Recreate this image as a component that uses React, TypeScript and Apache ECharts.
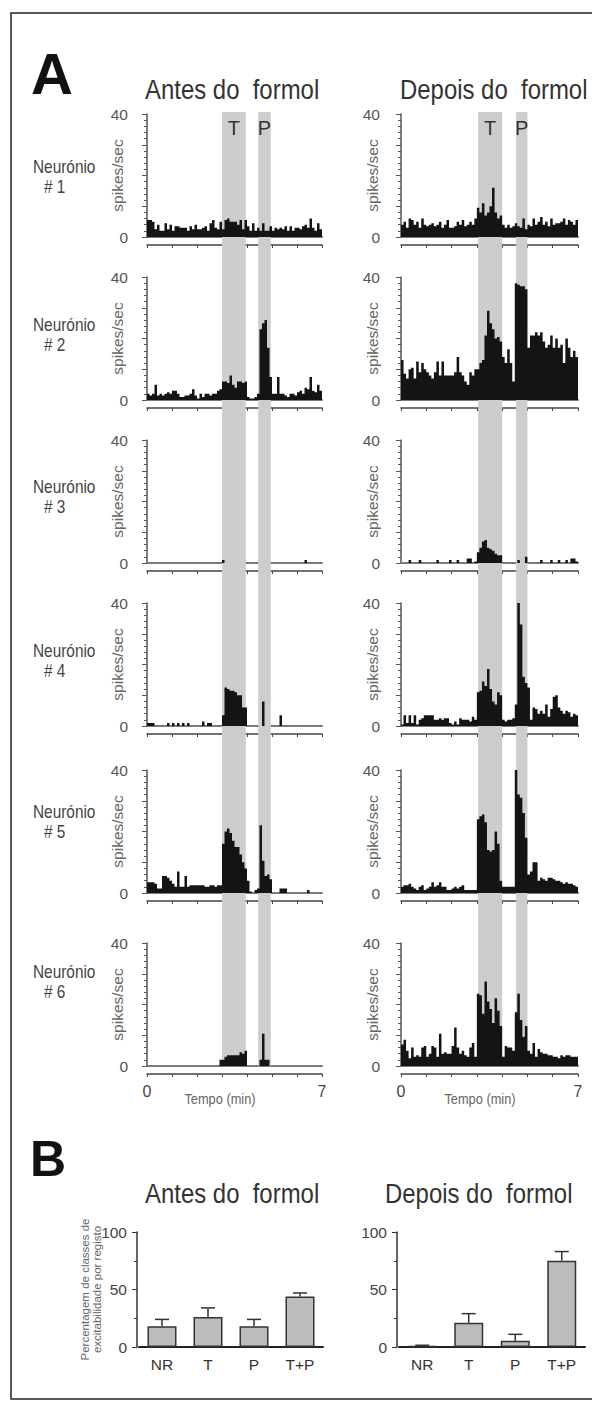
import React, { useEffect, useRef } from 'react';
import * as echarts from 'echarts';

// ---------- DATA ----------
const BIN = 0.1; // minutes per histogram bin
const TIME_MAX = 7;

const antes1 = [5.5,5.5,5,2.5,4,2,2,4.5,2.5,4, 2,3.5,3.5,3,3,3,2,3.5,2.5,4, 2.5,2.5,3,3.5,2,4.5,5.5,3,2.5,5, 2.5,5.5,6,5,5,5,4,5.5,2.5,5.5, 3.5,2,4.5,2,3,2,4.5,2,2,3.5, 2,3,2.5,3,2.5,3.5,2,3.5,2,3, 3,2.5,3.5,4,3,6,3,2,4.5,2.5];
const depois1 = [4,5,3,6,5.5,4,5,3,6,4, 3.5,4,4.5,3.5,4,5,3,4,5.5,3, 3,3.5,5,4,5.5,3.5,4,5,4,6, 9.5,8,11,7,8,10,16,8,6,7, 4,3,4,3,3.5,4.5,3.5,3,6,2.5, 4,3.5,6,4,5,6.5,4,5,3.5,6, 4,4.5,4.5,5,6,4,5.5,5,4,5.5];
const antes2 = [2,1.5,2,5,1.5,2,1.5,2,2.5,2, 3,3,2,1,1,1.5,1.5,2,3.5,1.5, 0.5,2,1,2,2,1.5,2,2,3,3.5, 6,6,5.5,8,5,4,6,6,5.5,6, 1,0.5,0.5,1,2,23,25,26,17,7.5, 2,2,7.5,2,2,1.5,1,2,2,1.5, 2.5,3,2,4,3.5,7.5,3,2.5,5,3];
const depois2 = [13,8.5,7,10,10.5,7,12.5,9,12,10, 9,8,7,9,12.5,8,12.5,8,8,8, 8,9,14,9,8,6,5,9,8,10, 10,12,13,21,29,25,23,20,20.5,19, 14,12,16.5,12,6,38,37.5,37,37,36, 17,21,21,22,21,22,19,17,18,21, 17,20,17,18,12,20,17,14,16,14];
const antes3 = [0,0,0,0,0,0,0,0,0,0, 0,0,0,0,0,0,0,0,0,0, 0,0,0,0,0,0,0,0,0,0, 1,0,0,0,0,0,0,0,0,0, 0,0,0,0,0,0,0,0,0,0, 0,0,0,0,0,0,0,0,0,0, 0,0,0,1,0,0,0,0,0,0];
const depois3 = [0,0,0,1,0,0,0,1,0,0, 0,0,0,0,1,0,0,0,0,1, 0,0,1,0,0,0,1.5,1.5,0,0.5, 3.5,5,7,7.5,5,4.5,4,3,2.5,2.5, 0,0,0,0,0,0,1,0,0,2, 0,0,0,0,0,1,0,0,0,1, 0,0,1,0,0,1,0,1.5,1.5,0.5];
const antes4 = [1,1,1,0,0,0,0,0,1,0, 1,0,1,0,1,0,1,0,0,0, 0,0,1.5,0,1,1,0,0,0,0, 3.5,12.5,12,11.5,11.5,11,10,10,6,6, 0,0,0,0,0,0,8,0,0,0, 0,0,0,3.5,0,0,0,0,0,0, 0,0,0,0,0,0,0,0,0,0];
const depois4 = [0.5,3.5,1,3.5,1,3.5,0.5,2,2.5,3.5, 3.5,3.5,3.5,2,2,2.5,2,2.5,2.5,1, 0.5,1.5,0.5,2.5,2,2,2,1.5,3,2, 11,11.5,14.5,13,18.5,12,8,7,11,10, 2,1.5,2,2,2.5,7,40,33,16,14, 12.5,2,6,5.5,4,5,4,7,3,5.5, 9.5,10,6,5,4,5,4.5,3,4,3.5];
const antes5 = [3.5,3.5,3.5,3,1.5,1.5,5.5,5.5,5,4, 3,2,7,2,2,5.5,2,2.5,2.5,2.5, 2.5,2.5,2.5,2,2,2.5,2.5,2,2.5,2.5, 16,20,21,19.5,17,15,15,12.5,10,8, 4,0.5,0,1,1.5,22,10.5,5.5,6,4.5, 0,0,0,1.5,1.5,1.5,0,0,0,0, 0,0,0,0,1,0,0,0,0,0];
const depois5 = [2,2.5,2.5,3,2,1.5,1,2,2.5,1, 1.5,2,3.5,2,2.5,3.5,2,2,1,1, 1.5,2,1.5,2,2.5,1,1,1,1,1, 24,25,25.5,23,14,13.5,14,20,16,4, 2,2,2,2,2,40,32,31,26,18, 6,7,10,10,4,5,4.5,4,5,5, 4.5,4,4,3.5,3,3.5,3,3,2.5,2];
const antes6 = [0,0,0,0,0,0,0,0,0,0, 0,0,0,0,0,0,0,0,0,0, 0,0,0,0,0,0,0,0,0,2, 2,3,3.5,3.5,3.5,3.5,3.5,4.5,4,5, 0,0,0,0,0,2,10.5,2,2,0, 0,0,0,0,0,0,0,0,0,0, 0,0,0,0,0,0,0,0,0,0];
const depois6 = [7,8.5,5,2.5,6,3,3.5,3,6,6.5, 3,4,6.5,6,3,10.5,4,4.5,4,4, 6.5,12.5,6,4,5,3.5,3,6,7.5,3, 23.5,23,17,27.5,21,18.5,14,22,18,13, 3,6.5,6,6,5,17.5,23.5,15,9.5,13, 5,4,7.5,3,5.5,4.5,4,4,3.5,3.5, 3,3,2.5,3.5,3,3.5,3.5,3,3,3];

const antesRows = [antes1, antes2, antes3, antes4, antes5, antes6];
const depoisRows = [depois1, depois2, depois3, depois4, depois5, depois6];
const neuronNumbers = ['# 1', '# 2', '# 3', '# 4', '# 5', '# 6'];

const bandsAntes: [number, number, string][] = [[3.0, 3.95, 'T'], [4.45, 4.95, 'P']];
const bandsDepois: [number, number, string][] = [[3.05, 4.0, 'T'], [4.55, 5.0, 'P']];

const yLabelValues = [0, 40];
const timeLabelValues = [0, 7];

const classes = ['NR', 'T', 'P', 'T+P'];
const antesPct = [18, 26, 18, 44];
const antesPctErr = [6, 8, 6, 3];
const depoisPct = [1, 21, 5.5, 75];
const depoisPctErr = [0.5, 8, 5.5, 8];

// ---------- LAYOUT ----------
const ROW_TOP = [114, 277, 440, 603, 770, 943];
const ROW_H = 123;
const COLS = [
  { left: 147, width: 175, axisOffset: 7, nameGap: 15 },
  { left: 401, width: 177, axisOffset: 9, nameGap: 12 },
];
const BAND_TOP = 112;
const BAND_BOTTOM = 1066;
const NEURON_Y = [167, 325, 487, 651, 812, 972];

const SANS = "'Liberation Sans', Arial, sans-serif";
const SX = 0.855;

function buildOption() {
  const grid: any[] = [];
  const xAxis: any[] = [];
  const yAxis: any[] = [];
  const series: any[] = [];

  // background bands (T / P)
  [bandsAntes, bandsDepois].forEach((bands, c) => {
    const gi = grid.length;
    grid.push({ left: COLS[c].left, width: COLS[c].width, top: BAND_TOP, height: BAND_BOTTOM - BAND_TOP });
    const xi = xAxis.length;
    xAxis.push({ gridIndex: gi, type: 'value', min: 0, max: TIME_MAX, show: false });
    const yi = yAxis.length;
    yAxis.push({ gridIndex: gi, type: 'value', min: 0, max: 1, show: false });
    series.push({
      type: 'line', xAxisIndex: xi, yAxisIndex: yi, data: [[0, 0]], symbol: 'none',
      lineStyle: { width: 0 }, z: 0, silent: true,
      markArea: {
        silent: true,
        itemStyle: { color: '#cdcdcd' },
        label: { show: true, position: 'insideTop', distance: 6, fontSize: 20, color: '#333', fontFamily: SANS },
        data: bands.map(([a, b, l]) => [{ xAxis: a, name: l }, { xAxis: b }]),
      },
    });
  });

  // histograms
  for (let r = 0; r < 6; r++) {
    [antesRows[r], depoisRows[r]].forEach((vals, c) => {
      const col = COLS[c];
      const gi = grid.length;
      grid.push({ left: col.left, width: col.width, top: ROW_TOP[r], height: ROW_H });
      const xi = xAxis.length;
      xAxis.push({
        gridIndex: gi, type: 'value', min: 0, max: TIME_MAX,
        axisLine: { show: true, onZero: false, lineStyle: { color: '#7a7a7a', width: 2 } },
        axisTick: { show: false }, axisLabel: { show: false }, splitLine: { show: false },
      });
      xAxis.push({
        gridIndex: gi, type: 'value', min: 0, max: TIME_MAX, interval: 1, position: 'bottom', offset: 8,
        axisLine: { show: true, onZero: false, lineStyle: { color: '#444', width: 1.5 } },
        axisTick: { show: true, length: 3, lineStyle: { color: '#444', width: 1 } },
        axisLabel: {
          show: r === 5, margin: 9, fontSize: 16, color: '#444', fontFamily: SANS,
          formatter: (v: number) => (timeLabelValues.includes(v) ? String(v) : ''),
        },
        splitLine: { show: false },
      });
      const yi = yAxis.length;
      yAxis.push({
        gridIndex: gi, type: 'value', min: 0, max: 40, interval: 10, offset: col.axisOffset,
        axisLine: { show: true, lineStyle: { color: '#555', width: 1.5 } },
        axisTick: { show: true, length: 5, lineStyle: { color: '#555', width: 1 } },
        minorTick: { show: true, splitNumber: 5, length: 3, lineStyle: { color: '#555', width: 1 } },
        axisLabel: {
          fontSize: 15.5, color: '#555', margin: 12, fontFamily: SANS,
          formatter: (v: number) => (yLabelValues.includes(v) ? String(v) : ''),
        },
        splitLine: { show: false },
        name: 'spikes/sec', nameLocation: 'middle', nameGap: col.nameGap, nameMoveOverlap: false,
        nameTextStyle: { fontSize: 15.5, color: '#666', fontFamily: SANS },
      });
      const data = vals.map((v, i) => [+(i * BIN).toFixed(2), v]);
      data.push([TIME_MAX, vals[vals.length - 1]]);
      series.push({
        type: 'line', step: 'end', xAxisIndex: xi, yAxisIndex: yi, data,
        symbol: 'none', showSymbol: false, lineStyle: { width: 0 },
        areaStyle: { color: '#141414', opacity: 1 }, z: 3, silent: true,
      });
    });
  }

  // bar charts B
  const bGrids = [
    { left: 139, width: 184, offset: 2, vals: antesPct, errs: antesPctErr, name: 'Percentagem de classes de\nexcitabilidade por registo' },
    { left: 399, width: 186, offset: 2, vals: depoisPct, errs: depoisPctErr, name: '' },
  ];
  bGrids.forEach((b) => {
    const gi = grid.length;
    grid.push({ left: b.left, width: b.width, top: 1232, height: 115 });
    const xi = xAxis.length;
    xAxis.push({
      gridIndex: gi, type: 'category', data: classes,
      axisLine: { show: true, lineStyle: { color: '#222', width: 2 } },
      axisTick: { show: false },
      axisLabel: { fontSize: 15.5, color: '#333', margin: 9, fontFamily: SANS },
    });
    const yi = yAxis.length;
    yAxis.push({
      gridIndex: gi, type: 'value', min: 0, max: 100, interval: 50, offset: b.offset,
      axisLine: { show: true, lineStyle: { color: '#333', width: 1.5 } },
      axisTick: { show: true, length: 5, lineStyle: { color: '#333', width: 1 } },
      minorTick: { show: true, splitNumber: 2, length: 3, lineStyle: { color: '#333', width: 1 } },
      axisLabel: { fontSize: 15.5, color: '#444', margin: 10, fontFamily: SANS },
      splitLine: { show: false },
      name: b.name, nameLocation: 'middle', nameGap: 34, nameMoveOverlap: false,
      nameTextStyle: { fontSize: 11.5, lineHeight: 12, color: '#666', fontFamily: SANS },
    });
    series.push({
      type: 'bar', xAxisIndex: xi, yAxisIndex: yi, data: b.vals, barWidth: 29,
      itemStyle: { color: '#bcbcbc', borderColor: '#333', borderWidth: 1.5 }, z: 3, silent: true,
    });
    series.push({
      type: 'custom', xAxisIndex: xi, yAxisIndex: yi, z: 4, silent: true,
      data: b.vals.map((v, i) => [i, v, b.errs[i]]),
      renderItem: (params: any, api: any) => {
        const i = api.value(0);
        const v = api.value(1);
        const e = api.value(2);
        const p0 = api.coord([i, v]);
        const p1 = api.coord([i, v + e]);
        const hw = 7;
        const style = { stroke: '#333', lineWidth: 1.5 };
        return {
          type: 'group',
          children: [
            { type: 'line', shape: { x1: p0[0], y1: p0[1], x2: p1[0], y2: p1[1] }, style },
            { type: 'line', shape: { x1: p1[0] - hw, y1: p1[1], x2: p1[0] + hw, y2: p1[1] }, style },
          ],
        };
      },
    });
  });

  // graphic texts
  const txt = (text: string, x: number, y: number, fontSize: number, extra: any = {}) => ({
    type: 'text', x, y, scaleX: extra.scaleX ?? SX, z: 10, silent: true,
    style: {
      text, fontSize, fontFamily: SANS, fontWeight: extra.fontWeight ?? 'normal',
      fill: extra.fill ?? '#333', align: extra.align ?? 'left', verticalAlign: 'middle',
    },
  });
  const graphic: any[] = [
    { type: 'rect', z: 10, silent: true, shape: { x: 11, y: 13, width: 700, height: 1386 }, style: { fill: 'none', stroke: '#222', lineWidth: 1.5 } },
    txt('A', 31, 73.5, 58, { fontWeight: 'bold', fill: '#111', scaleX: 1 }),
    txt('B', 30, 1158.5, 50, { fontWeight: 'bold', fill: '#111', scaleX: 1 }),
    txt('Antes do  formol', 145, 89, 28),
    txt('Depois do  formol', 400, 89, 28),
    txt('Antes do  formol', 145, 1193, 28),
    txt('Depois do  formol', 385, 1193, 28),
    txt('Tempo (min)', 220, 1099, 15, { align: 'center', fill: '#666' }),
    txt('Tempo (min)', 480, 1099, 15, { align: 'center', fill: '#666' }),
  ];
  NEURON_Y.forEach((y, r) => {
    graphic.push(txt('Neurónio', 33, y, 18, { fill: '#444' }));
    graphic.push(txt(neuronNumbers[r], 44, y + 20, 18, { fill: '#444' }));
  });

  return {
    animation: false,
    backgroundColor: '#fff',
    textStyle: { fontFamily: SANS },
    grid, xAxis, yAxis, series, graphic,
  };
}

export default function App() {
  const ref = useRef<HTMLDivElement>(null);
  useEffect(() => {
    const chart = echarts.init(ref.current!, null, { renderer: 'svg' });
    chart.setOption(buildOption());
    return () => chart.dispose();
  }, []);
  return (
    <div
      ref={ref}
      style={{ position: 'absolute', left: 0, top: 0, width: 592, height: 1412, background: '#fff' }}
    />
  );
}
